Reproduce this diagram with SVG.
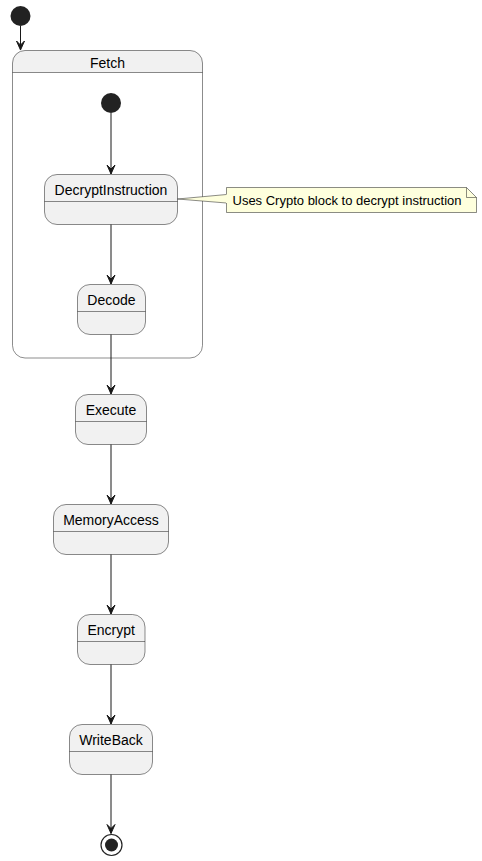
<svg xmlns="http://www.w3.org/2000/svg" width="482" height="861" viewBox="0 0 482 861">
<defs>
<style>
.st{fill:#F1F1F1;stroke:#181818;stroke-width:0.5}
.ln{stroke:#181818;stroke-width:0.5;fill:none}
.lbl{font-family:"Liberation Sans",Arial,sans-serif;font-size:14px;fill:#000;text-anchor:middle}
.note{font-family:"Liberation Sans",Arial,sans-serif;font-size:13px;fill:#000}
.edge{stroke:#181818;stroke-width:1;fill:none}
</style>
<marker id="ah" viewBox="0 0 10 10" refX="10" refY="5" markerWidth="10" markerHeight="10" markerUnits="userSpaceOnUse" orient="auto">
<path d="M1,1 L10,5 L1,9 L5,5 Z" fill="#181818" stroke="#181818" stroke-width="1"/>
</marker>
</defs>
<rect width="482" height="861" fill="#FFFFFF"/>

<g id="start">
<circle cx="20.5" cy="16" r="10" fill="#222222"/>
</g>

<g id="Fetch">
<path d="M24.5,50.5 H190.5 A12,12 0 0 1 202.5,62.5 V72.5 H12.5 V62.5 A12,12 0 0 1 24.5,50.5 Z" fill="#F1F1F1"/>
<rect x="12.5" y="50.5" width="190" height="307.5" rx="12.5" ry="12.5" class="ln"/>
<line x1="12.5" y1="72.5" x2="202.5" y2="72.5" class="ln"/>
<text x="107.5" y="68" class="lbl">Fetch</text>
</g>

<g id="fetch_start">
<circle cx="111" cy="103" r="10" fill="#222222"/>
</g>

<g id="DecryptInstruction">
<rect x="44.5" y="174.5" width="133" height="50" rx="12.5" ry="12.5" class="st"/>
<line x1="44.5" y1="201.5" x2="177.5" y2="201.5" class="ln"/>
<text x="111" y="194.5" class="lbl">DecryptInstruction</text>
</g>

<g id="Decode">
<rect x="77.5" y="284.5" width="68" height="50" rx="12.5" ry="12.5" class="st"/>
<line x1="77.5" y1="311.5" x2="145.5" y2="311.5" class="ln"/>
<text x="111.5" y="304.5" class="lbl">Decode</text>
</g>

<g id="Execute">
<rect x="75.5" y="394.5" width="71" height="50" rx="12.5" ry="12.5" class="st"/>
<line x1="75.5" y1="421.5" x2="146.5" y2="421.5" class="ln"/>
<text x="111" y="414.5" class="lbl">Execute</text>
</g>

<g id="MemoryAccess">
<rect x="53.5" y="504.5" width="115" height="50" rx="12.5" ry="12.5" class="st"/>
<line x1="53.5" y1="531.5" x2="168.5" y2="531.5" class="ln"/>
<text x="111" y="524.5" class="lbl">MemoryAccess</text>
</g>

<g id="Encrypt">
<rect x="77.5" y="614.5" width="67.5" height="50" rx="12.5" ry="12.5" class="st"/>
<line x1="77.5" y1="641.5" x2="145" y2="641.5" class="ln"/>
<text x="111.2" y="634.5" class="lbl">Encrypt</text>
</g>

<g id="WriteBack">
<rect x="69.5" y="724.5" width="83" height="50" rx="12.5" ry="12.5" class="st"/>
<line x1="69.5" y1="751.5" x2="152.5" y2="751.5" class="ln"/>
<text x="111" y="744.5" class="lbl">WriteBack</text>
</g>

<g id="end">
<circle cx="111.5" cy="845" r="10.5" fill="#FFFFFF" stroke="#222222" stroke-width="1.2"/>
<circle cx="111.5" cy="845" r="6.5" fill="#222222"/>
</g>

<g id="note">
<path d="M177.5,199 L226.5,194.5 L226.5,203 Z" fill="#FEFFDD" stroke="#181818" stroke-width="0.5"/>
<path d="M226.5,187.5 H466.5 L476.5,197.5 V212.5 H226.5 Z" fill="#FEFFDD" stroke="#181818" stroke-width="0.5"/>
<path d="M466.5,187.5 V197.5 H476.5" fill="none" stroke="#181818" stroke-width="0.5"/>
<line x1="226.5" y1="194.5" x2="226.5" y2="203" stroke="#FEFFDD" stroke-width="1"/>
<text x="232.5" y="204.5" class="note">Uses Crypto block to decrypt instruction</text>
</g>

<g id="connectors">
<line x1="20.5" y1="26" x2="20.5" y2="50" class="edge" marker-end="url(#ah)"/>
<line x1="111" y1="113" x2="111" y2="174" class="edge" marker-end="url(#ah)"/>
<line x1="111" y1="224.5" x2="111" y2="284" class="edge" marker-end="url(#ah)"/>
<line x1="111" y1="334.5" x2="111" y2="394" class="edge" marker-end="url(#ah)"/>
<line x1="111" y1="444.5" x2="111" y2="504" class="edge" marker-end="url(#ah)"/>
<line x1="111" y1="554.5" x2="111" y2="614" class="edge" marker-end="url(#ah)"/>
<line x1="111" y1="664.5" x2="111" y2="724" class="edge" marker-end="url(#ah)"/>
<line x1="111" y1="774.5" x2="111" y2="833.5" class="edge" marker-end="url(#ah)"/>
</g>
</svg>
